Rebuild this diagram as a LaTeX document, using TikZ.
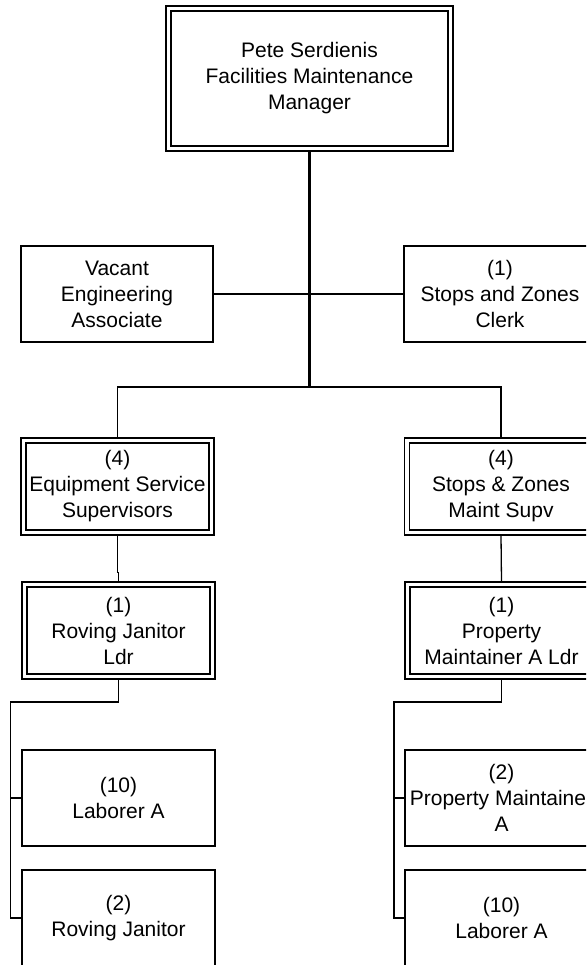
\documentclass[tikz,border=0pt]{standalone}
\usepackage{fontspec}
\setmainfont{Liberation Sans}
\begin{document}
\begin{tikzpicture}[x=1pt,y=-1pt,
  box/.style={draw, line width=1.3pt, rectangle, minimum width=192pt, minimum height=96pt,
    inner sep=0pt, align=center, font=\fontsize{21}{26}\selectfont},
  dbox/.style={box, path picture={\draw[line width=1.7pt]
    ([shift={(5pt,-5pt)}]path picture bounding box.north west) rectangle
    ([shift={(-5pt,5pt)}]path picture bounding box.south east);}},
  conn/.style={line width=1.3pt},
  trunk/.style={line width=2.4pt}]
\clip (0,0) rectangle (586,965);
\useasboundingbox (0,0) rectangle (586,965);

\node[dbox, minimum width=287pt, minimum height=145pt] (mgr) at (309.5,78.5)
  {Pete Serdienis\\Facilities Maintenance\\Manager};
\node[box] (vac) at (117,294) {Vacant\\Engineering\\Associate};
\node[box] (clerk) at (500,294) {(1)\\Stops and Zones\\Clerk};
\node[dbox, minimum width=193pt, minimum height=97pt] (equip) at (117.5,486.5)
  {(4)\\Equipment Service\\Supervisors};
\node[dbox, minimum width=193pt, minimum height=97pt] (supv) at (501,486.5)
  {(4)\\Stops \& Zones\\Maint Supv};
\node[dbox, minimum width=193pt, minimum height=97pt] (rovldr) at (118.5,630.5)
  {(1)\\Roving Janitor\\Ldr};
\node[dbox, minimum width=193pt, minimum height=97pt] (propldr) at (501.5,630.5)
  {(1)\\Property\\Maintainer A Ldr};
\node[box, minimum width=193pt] (labL) at (118.5,798) {(10)\\Laborer A};
\node[box, minimum width=193pt] (jan) at (118.5,918) {(2)\\Roving Janitor};
\node[box, minimum width=193pt] (pmA) at (501.5,798) {(2)\\Property Maintainer\\A};
\node[box, minimum width=193pt] (labR) at (501.5,918) {(10)\\Laborer A};

\coordinate (j) at (309.5,387);
\coordinate (bl) at (10.5,702);
\coordinate (br) at (394,702);

\draw[trunk] (mgr.south) -- (j);
\draw[conn] (vac.east) -- (clerk.west);
\draw[conn] (equip.north) |- (j) -| (supv.north);
\draw[conn] (equip.south) -- ++(0,37) -| (rovldr.north);
\draw[conn] (supv.south) -- (propldr.north);
\draw[conn] (rovldr.south) |- (bl) |- (jan.west);
\draw[conn] (bl |- labL.west) -- (labL.west);
\draw[conn] (propldr.south) |- (br) |- (labR.west);
\draw[conn] (br |- pmA.west) -- (pmA.west);
\end{tikzpicture}
\end{document}
